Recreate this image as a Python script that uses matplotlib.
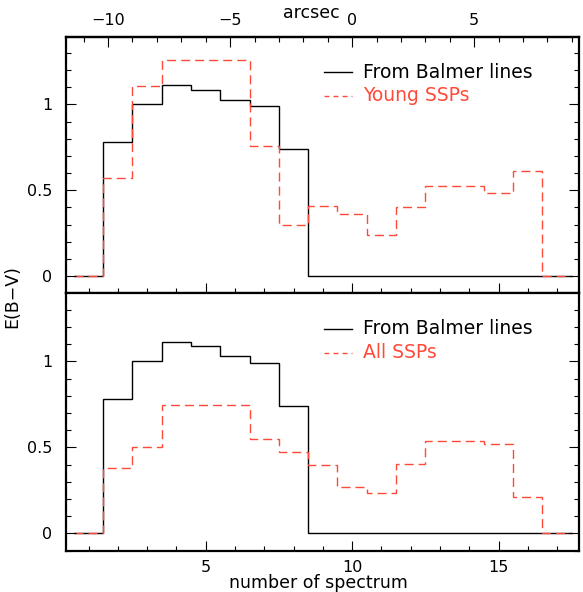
"""Two-panel E(B-V) step plot: Balmer lines vs SSP fits."""

import matplotlib

matplotlib.use("Agg")
import matplotlib.pyplot as plt
import numpy as np
from matplotlib.ticker import MultipleLocator

# spectrum numbers 1..17
spectrum = np.arange(1, 18)
balmer = [0.0, 0.78, 1.00, 1.115, 1.087, 1.028, 0.99, 0.74,
          0.0, 0.0, 0.0, 0.0, 0.0, 0.0, 0.0, 0.0, 0.0]
young_ssp = [0.0, 0.57, 1.11, 1.26, 1.26, 1.26, 0.757, 0.297,
             0.41, 0.36, 0.237, 0.404, 0.527, 0.527, 0.483, 0.614, 0.0]
all_ssp = [0.0, 0.383, 0.503, 0.747, 0.747, 0.747, 0.548, 0.472,
           0.40, 0.27, 0.237, 0.405, 0.537, 0.537, 0.517, 0.212, 0.0]
arcsec_ticks = [-10, -5, 0, 5]

ARCSEC_PER_SPEC = 1.2
RED = "#ff4a3a"
FS_TICK = 11.5
FS_LEG = 13.5
FS_LAB = 12.5

W, H = 583, 592
fig = plt.figure(figsize=(W / 100, H / 100), dpi=100)

left, right = 66 / W, 578.5 / W
y_top, y_mid, y_bot = 1 - 36.7 / H, 1 - 293.3 / H, 1 - 550.7 / H

ax1 = fig.add_axes([left, y_mid, right - left, y_top - y_mid])
ax2 = fig.add_axes([left, y_bot, right - left, y_mid - y_bot], sharex=ax1)


def draw_panel(ax, other, other_label):
    edges = np.append(spectrum - 0.5, spectrum[-1] + 0.5)
    ax.stairs(balmer, edges, color="black", lw=1.0, baseline=None)
    ax.stairs(other, edges, color=RED, lw=1.0, baseline=None,
              linestyle=(0, (6.5, 3.6)))
    ax.set_xlim(0.23, 17.73)
    ax.set_ylim(-0.1, 1.395)
    ax.xaxis.set_major_locator(MultipleLocator(5))
    ax.xaxis.set_minor_locator(MultipleLocator(1))
    ax.yaxis.set_minor_locator(MultipleLocator(0.1))
    ax.set_yticks([0, 0.5, 1])
    ax.set_yticklabels(["0", "0.5", "1"], fontsize=FS_TICK)
    ax.tick_params(axis="both", which="both", direction="in", width=0.8,
                   top=False, right=True)
    ax.tick_params(axis="both", which="major", length=7)
    ax.tick_params(axis="both", which="minor", length=3.5)
    ax.tick_params(axis="y", pad=10)
    ax.tick_params(axis="x", pad=7, labelsize=FS_TICK)
    for s in ax.spines.values():
        s.set_linewidth(1.6)

    # legend drawn by hand
    tr = ax.transAxes
    ax.plot([0.503, 0.558], [0.862, 0.862], color="black", lw=1.0,
            transform=tr)
    ax.plot([0.503, 0.558], [0.77, 0.77], color=RED, lw=1.0,
            linestyle=(0, (3.5, 3.0)), transform=tr)
    ax.text(0.58, 0.862, "From Balmer lines", transform=tr, fontsize=FS_LEG,
            va="center", ha="left", color="black")
    ax.text(0.58, 0.77, other_label, transform=tr, fontsize=FS_LEG,
            va="center", ha="left", color=RED)


draw_panel(ax1, young_ssp, "Young SSPs")
draw_panel(ax2, all_ssp, "All SSPs")
ax1.tick_params(axis="x", labelbottom=False)

sec = ax1.secondary_xaxis(
    "top",
    functions=(lambda s: (s - 10) * ARCSEC_PER_SPEC,
               lambda a: a / ARCSEC_PER_SPEC + 10),
)
sec.set_xticks(arcsec_ticks)
sec.xaxis.set_minor_locator(MultipleLocator(1))
sec.tick_params(axis="x", which="both", direction="in", width=0.8,
                labelsize=FS_TICK, pad=6.5)
sec.tick_params(axis="x", which="major", length=7)
sec.tick_params(axis="x", which="minor", length=3.5)
sec.spines["top"].set_linewidth(1.6)

fig.text(311 / W, 1 - 12.5 / H, "arcsec", ha="center", va="center",
         fontsize=FS_LAB)
fig.text(318 / W, 1 - 583 / H, "number of spectrum", ha="center",
         va="center", fontsize=FS_LAB)
fig.text(12 / W, 1 - 297 / H, "E(B−V)", ha="center", va="center",
         rotation=90, fontsize=FS_LAB)

fig.savefig("out.png", dpi=100)
